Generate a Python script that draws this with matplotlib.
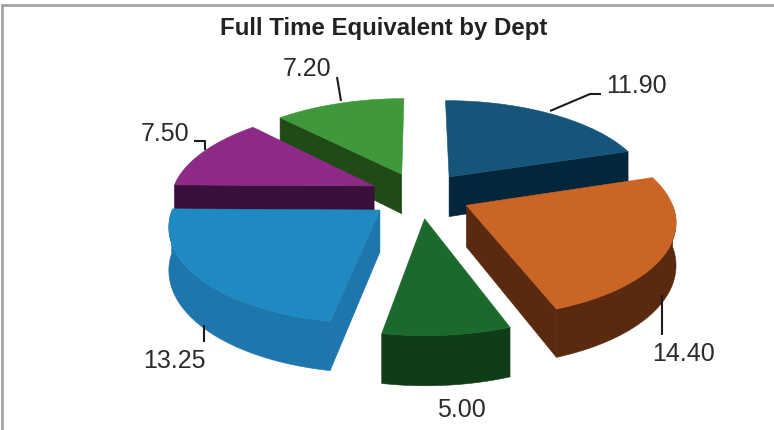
import numpy as np
import matplotlib
matplotlib.use("Agg")
import matplotlib.pyplot as plt
from matplotlib.patches import Polygon

title = "Full Time Equivalent by Dept"
values = [11.90, 14.40, 5.00, 13.25, 7.50, 7.20]
top_colors = ["#17547a", "#cb6526", "#1c6a2b", "#1f8ac2", "#8c2a85", "#3f983a"]
side_colors = ["#04263a", "#5a2a10", "#0f3d17", "#1f76ac", "#3a0f3a", "#204a16"]
label_pos = [(636, 86), (684, 354), (461, 410), (174, 361), (165, 134), (307, 69)]
leaders = [
    [(550, 111), (590, 94), (601, 94)],
    [(662, 295), (662, 335)],
    None,
    [(204, 325), (204, 342)],
    [(194, 141), (205, 141), (205, 150)],
    [(337, 77), (341, 101)],
]

# projection parameters of the tilted, perspective pie
XC, YC, R = 420.0, 195.0, 203.0
D, SLOPE, EXPLODE = 6.9, 4390.0, 0.25


def project(u, v):
    u, v = np.asarray(u, float), np.asarray(v, float)
    return XC + R * D * u / (D - v), YC - SLOPE / D + SLOPE / (D - v)


def wall(y):
    return 28 + 0.066 * y


fig = plt.figure(figsize=(7.74, 4.30), dpi=100, facecolor="white")
ax = fig.add_axes([0, 0, 1, 1])
ax.set_xlim(0, 774)
ax.set_ylim(430, 0)
ax.axis("off")

total = sum(values)
ends = np.cumsum(values) / total * 2 * np.pi
starts = np.concatenate([[0], ends[:-1]])
wedges = []
for i, (a0, a1) in enumerate(zip(starts, ends)):
    mid = (a0 + a1) / 2
    cu, cv = EXPLODE * np.sin(mid), -EXPLODE * np.cos(mid)
    th = np.linspace(a0, a1, 60)
    us = np.concatenate([[cu], cu + np.sin(th)])
    vs = np.concatenate([[cv], cv - np.cos(th)])
    wedges.append((cv, i, us, vs, a0, a1, th))

# back-to-front painting; walls facing away from the viewer are skipped
for _, i, us, vs, a0, a1, th in sorted(wedges, key=lambda w: w[0]):
    sx, sy = project(us, vs)
    low = sy + wall(sy)
    parts = []
    front_arc = [j + 1 for j, t in enumerate(th) if -np.cos(t) > 0]
    if len(front_arc) > 1:
        parts.append(front_arc)
    if -np.sin(a0) > 1e-6:
        parts.append([0, 1])
    if np.sin(a1) > 1e-6:
        parts.append([0, len(sx) - 1])
    for idx in parts:
        pts = np.column_stack([
            np.concatenate([sx[idx], sx[idx][::-1]]),
            np.concatenate([sy[idx], low[idx][::-1]]),
        ])
        ax.add_patch(Polygon(pts, closed=True, facecolor=side_colors[i],
                             edgecolor=side_colors[i], lw=0.4, zorder=2))
    ax.add_patch(Polygon(np.column_stack([sx, sy]), closed=True,
                         facecolor=top_colors[i], edgecolor=top_colors[i],
                         lw=0.4, zorder=2))

for v, (lx, ly), lead in zip(values, label_pos, leaders):
    ax.text(lx, ly, f"{v:.2f}", ha="center", va="center", fontsize=18,
            family="Liberation Sans", color="#2b2b2b", zorder=5)
    if lead:
        xs, ys = zip(*lead)
        ax.plot(xs, ys, color="#1c1c1c", lw=1.5, solid_capstyle="butt", zorder=4)

ax.text(383.5, 28, title, ha="center", va="center", fontsize=17.3, fontweight="bold",
        family="Liberation Sans", color="#222222")

# chart frame
ax.plot([1.5, 1.5, 774], [430, 5, 5], color="#a3a3a3", lw=2, zorder=6,
        solid_joinstyle="miter", clip_on=False)

fig.savefig("out.png", dpi=100)
